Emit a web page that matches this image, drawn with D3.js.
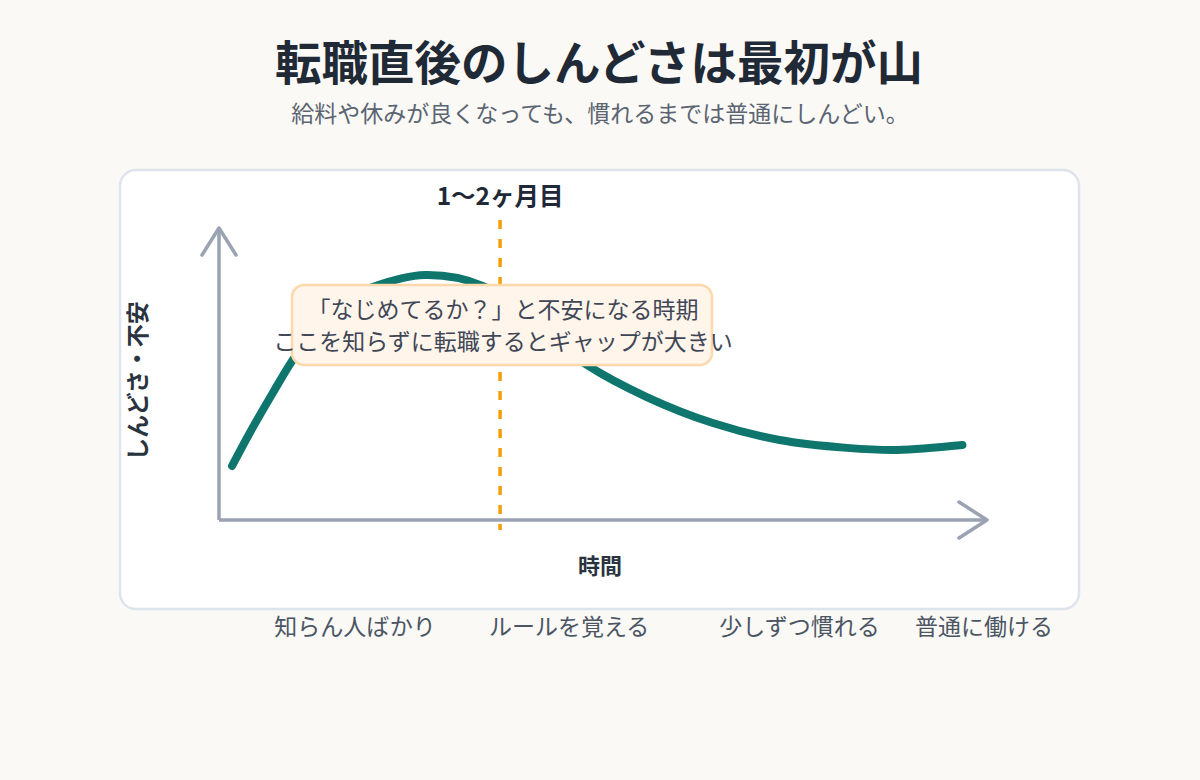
<!DOCTYPE html>
<html lang="ja">
<head>
<meta charset="utf-8">
<script src="https://cdn.jsdelivr.net/npm/d3@7"></script>
<style>
  html, body { margin: 0; padding: 0; background: #faf9f6; }
  svg { display: block; font-family: "Noto Sans CJK JP", "Noto Sans", sans-serif; }
</style>
</head>
<body>
<svg id="chart" width="1200" height="780"></svg>
<script>
// ---- data ----
const titleText = "転職直後のしんどさは最初が山";
const subtitleText = "給料や休みが良くなっても、慣れるまでは普通にしんどい。";
const yLabel = "しんどさ・不安";
const xLabel = "時間";
// time (0-100 progress) and strain (0-100)
const curveTime   = [1.7, 4.0, 7.0, 9.6, 13.2, 16.4, 20.0, 26.8, 34.4, 41.1, 47.9, 55.7, 64.3, 73.0, 81.8, 88.3, 96.8];
const curveStrain = [18.5, 29.8, 43.5, 54.8, 67.8, 75.3, 79.8, 83.9, 80.1, 67.1, 53.1, 42.1, 33.2, 27.4, 24.7, 24.0, 25.7];
const markerTime = 36.6;
const markerLabel = "1〜2ヶ月目";
const noteLines = ["「なじめてるか？」と不安になる時期", "ここを知らずに転職するとギャップが大きい"];
const phaseLabels = ["知らん人ばかり", "ルールを覚える", "少しずつ慣れる", "普通に働ける"];
const phaseTime = [17.7, 45.6, 75.6, 99.6];

// ---- drawing ----
const svg = d3.select("#chart");
const x = d3.scaleLinear().domain([0, 100]).range([219, 987]);
const y = d3.scaleLinear().domain([0, 100]).range([520, 228]);

svg.append("text").attr("x", 599).attr("y", 80).attr("text-anchor", "middle")
  .attr("font-size", 46.5).attr("font-weight", 700).attr("fill", "#1f2a36").text(titleText);
svg.append("text").attr("x", 600).attr("y", 122).attr("text-anchor", "middle")
  .attr("font-size", 23).attr("fill", "#5b6471").text(subtitleText);

// card
svg.append("rect").attr("x", 120).attr("y", 170).attr("width", 959).attr("height", 439)
  .attr("rx", 16).attr("fill", "#ffffff").attr("stroke", "#dde4ec").attr("stroke-width", 2.5);

const axisColor = "#9aa3b2";
// axes
svg.append("line").attr("x1", x(0)).attr("y1", y(0)).attr("x2", x(0)).attr("y2", y(100))
  .attr("stroke", axisColor).attr("stroke-width", 3.5);
svg.append("path").attr("d", `M${x(0)-17},${y(100)+27} L${x(0)},${y(100)} L${x(0)+17},${y(100)+27}`)
  .attr("fill", "none").attr("stroke", axisColor).attr("stroke-width", 3.5).attr("stroke-linecap", "round").attr("stroke-linejoin", "round");
svg.append("line").attr("x1", x(0)).attr("y1", y(0)).attr("x2", x(100)).attr("y2", y(0))
  .attr("stroke", axisColor).attr("stroke-width", 3.5);
svg.append("path").attr("d", `M${x(100)-28},${y(0)-18} L${x(100)},${y(0)} L${x(100)-28},${y(0)+18}`)
  .attr("fill", "none").attr("stroke", axisColor).attr("stroke-width", 3.5).attr("stroke-linecap", "round").attr("stroke-linejoin", "round");

// marker
svg.append("line").attr("x1", x(markerTime)).attr("x2", x(markerTime)).attr("y1", 220).attr("y2", 530)
  .attr("stroke", "#f59e0b").attr("stroke-width", 3.5).attr("stroke-dasharray", "9,10");
svg.append("text").attr("x", x(markerTime)).attr("y", 205).attr("text-anchor", "middle")
  .attr("font-size", 24.5).attr("font-weight", 700).attr("fill", "#1f2937").text(markerLabel);

// curve
const pts = curveTime.map((t, i) => [t, curveStrain[i]]);
const line = d3.line().x(d => x(d[0])).y(d => y(d[1])).curve(d3.curveCatmullRom.alpha(0.5));
svg.append("path").attr("d", line(pts)).attr("fill", "none").attr("stroke", "#0f766e")
  .attr("stroke-width", 8).attr("stroke-linecap", "round");

// note box
svg.append("rect").attr("x", 292).attr("y", 285).attr("width", 420).attr("height", 80).attr("rx", 12)
  .attr("fill", "#fff5eb").attr("stroke", "#fdd8aa").attr("stroke-width", 2.5);
noteLines.forEach((t, i) => {
  svg.append("text").attr("x", 503).attr("y", 318 + i * 32).attr("text-anchor", "middle")
    .attr("font-size", 23).attr("fill", "#3f4756").text(t);
});

// axis labels
svg.append("text").attr("transform", "translate(146,381) rotate(-90)").attr("text-anchor", "middle")
  .attr("font-size", 23).attr("font-weight", 700).attr("fill", "#2a3340").text(yLabel);
svg.append("text").attr("x", 600).attr("y", 574).attr("text-anchor", "middle")
  .attr("font-size", 22).attr("font-weight", 700).attr("fill", "#2a3340").text(xLabel);

// phase labels
svg.selectAll("text.phase").data(phaseLabels).enter().append("text").attr("class", "phase")
  .attr("x", (d, i) => x(phaseTime[i])).attr("y", 635).attr("text-anchor", "middle")
  .attr("font-size", 23).attr("fill", "#4b5563").text(d => d);
</script>
</body>
</html>
